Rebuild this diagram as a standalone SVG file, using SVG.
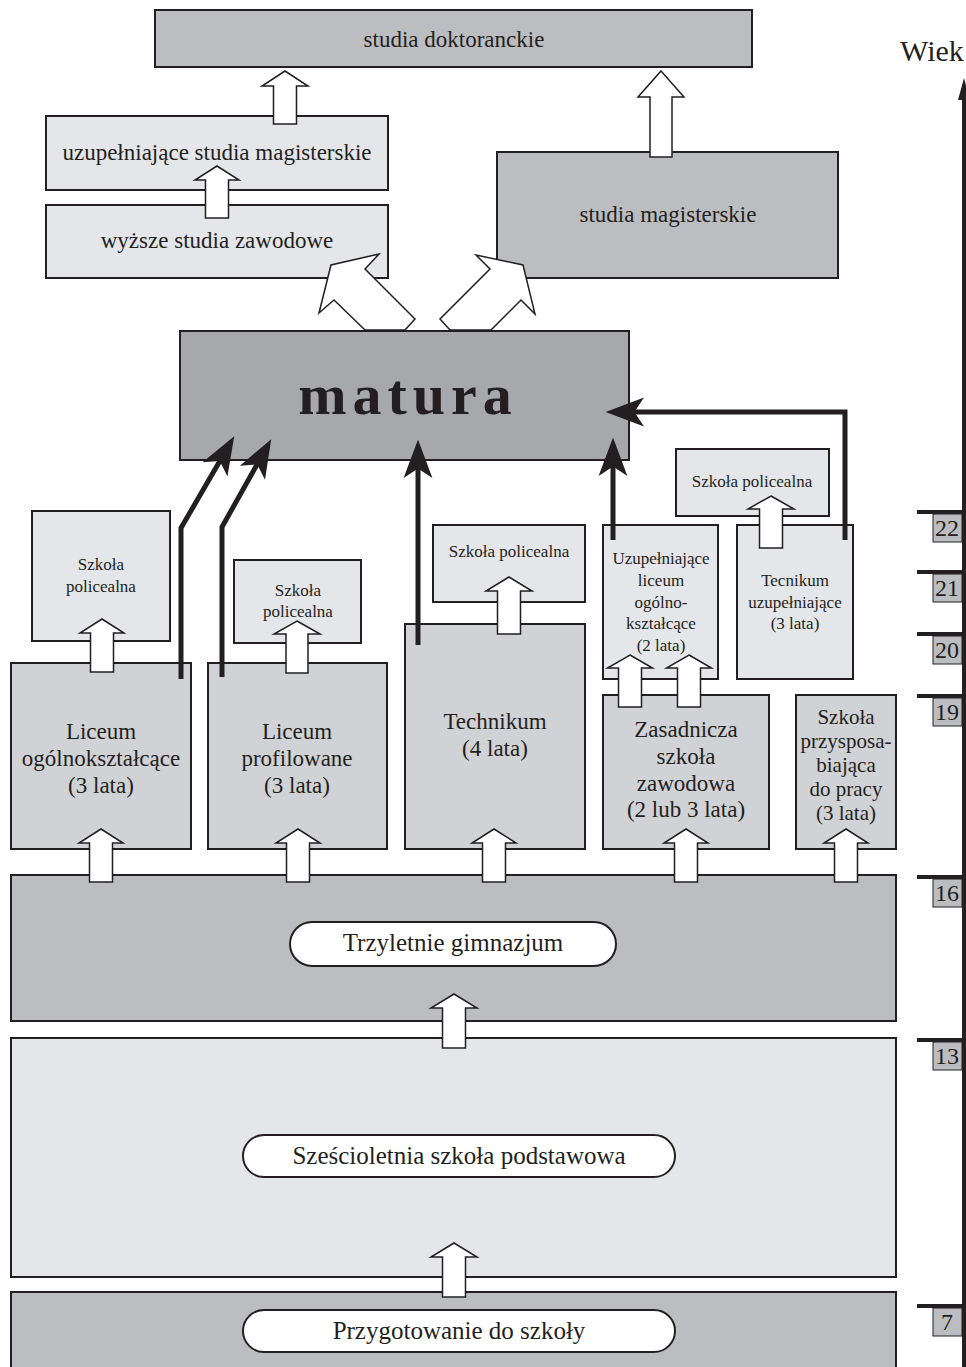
<svg xmlns="http://www.w3.org/2000/svg" width="966" height="1367" viewBox="0 0 966 1367">
<style>
text{font-family:"Liberation Serif","Times New Roman",serif;fill:#231f20;text-anchor:middle}
.b{stroke:#231f20;stroke-width:2}
.dk{fill:#bcbdc1}
.md{fill:#d1d2d5}
.lt{fill:#e5e6e9}
.mat{fill:#a6a8ac}
.pill{fill:#fff;stroke:#231f20;stroke-width:2}
.ha{fill:#fff;stroke:#231f20;stroke-width:1.5;stroke-linejoin:miter}
.t23{font-size:23px}
.t17{font-size:17px}
.t25{font-size:25px}
.ba{fill:none;stroke:#231f20;stroke-width:5;stroke-linejoin:miter}
.age{font-size:24px}
</style>
<defs>
<marker id="ah" markerUnits="userSpaceOnUse" markerWidth="60" markerHeight="60" refX="6" refY="0" orient="auto" viewBox="-10 -20 50 40">
<path d="M28 0 L-4 -12 L4 0 L-4 12 Z" fill="#231f20"/>
</marker>
</defs>

<g id="n-doktor"><rect class="b dk" x="155" y="10" width="597" height="57"/><text class="t23" x="454" y="47">studia doktoranckie</text></g>
<g id="n-uzup-mag"><rect class="b lt" x="46" y="116" width="342" height="74"/><text class="t23" x="217" y="160">uzupełniające studia magisterskie</text></g>
<g id="n-wyzsze"><rect class="b lt" x="46" y="205" width="342" height="73"/><text class="t23" x="217" y="248">wyższe studia zawodowe</text></g>
<g id="n-mag"><rect class="b dk" x="497" y="152" width="341" height="126"/><text class="t23" x="668" y="222">studia magisterskie</text></g>
<g id="n-matura"><rect class="b mat" x="180" y="331" width="449" height="129"/><text x="408" y="414" style="font-size:58px;font-weight:bold;letter-spacing:6px">matura</text></g>

<g id="n-pol1"><rect class="b lt" x="32" y="511" width="138" height="130"/><text class="t17" x="101" y="570">Szkoła</text><text class="t17" x="101" y="592">policealna</text></g>
<g id="n-pol2"><rect class="b lt" x="234" y="560" width="127" height="83"/><text class="t17" x="298" y="596">Szkoła</text><text class="t17" x="298" y="617">policealna</text></g>
<g id="n-pol3"><rect class="b lt" x="433" y="525" width="152" height="77"/><text class="t17" x="509" y="557">Szkoła policealna</text></g>
<g id="n-pol4"><rect class="b lt" x="676" y="449" width="153" height="67"/><text class="t17" x="752" y="487">Szkoła policealna</text></g>

<g id="n-lo"><rect class="b md" x="11" y="663" width="180" height="186"/><text class="t23" x="101" y="739">Liceum</text><text class="t23" x="101" y="766">ogólnokształcące</text><text class="t23" x="101" y="793">(3 lata)</text></g>
<g id="n-lp"><rect class="b md" x="208" y="663" width="179" height="186"/><text class="t23" x="297" y="739">Liceum</text><text class="t23" x="297" y="766">profilowane</text><text class="t23" x="297" y="793">(3 lata)</text></g>
<g id="n-tech"><rect class="b md" x="405" y="624" width="180" height="225"/><text class="t23" x="495" y="729">Technikum</text><text class="t23" x="495" y="756">(4 lata)</text></g>
<g id="n-ulo"><rect class="b lt" x="603" y="525" width="115" height="154"/><text class="t17" x="661" y="564">Uzupełniające</text><text class="t17" x="661" y="586">liceum</text><text class="t17" x="661" y="608">ogólno-</text><text class="t17" x="661" y="629">kształcące</text><text class="t17" x="661" y="651">(2 lata)</text></g>
<g id="n-tu"><rect class="b lt" x="737" y="525" width="116" height="154"/><text class="t17" x="795" y="586">Tecnikum</text><text class="t17" x="795" y="608">uzupełniające</text><text class="t17" x="795" y="629">(3 lata)</text></g>
<g id="n-zsz"><rect class="b md" x="603" y="695" width="166" height="154"/><text class="t23" x="686" y="737">Zasadnicza</text><text class="t23" x="686" y="764">szkoła</text><text class="t23" x="686" y="791">zawodowa</text><text class="t23" x="686" y="817">(2 lub 3 lata)</text></g>
<g id="n-sp"><rect class="b md" x="796" y="695" width="100" height="154"/><text x="846" y="724" style="font-size:21px">Szkoła</text><text x="846" y="748" style="font-size:21px">przysposa-</text><text x="846" y="772" style="font-size:21px">biająca</text><text x="846" y="796" style="font-size:21px">do pracy</text><text x="846" y="820" style="font-size:21px">(3 lata)</text></g>

<g id="n-gim"><rect class="b dk" x="11" y="875" width="885" height="146"/><rect class="pill" x="290" y="922" width="326" height="44" rx="22"/><text class="t25" x="453" y="951">Trzyletnie gimnazjum</text></g>
<g id="n-podst"><rect class="b lt" x="11" y="1038" width="885" height="239"/><rect class="pill" x="243" y="1135" width="432" height="42" rx="21"/><text class="t25" x="459" y="1164">Sześcioletnia szkoła podstawowa</text></g>
<g id="n-przyg"><rect class="b dk" x="11" y="1292" width="885" height="90"/><rect class="pill" x="243" y="1310" width="432" height="42" rx="21"/><text class="t25" x="459" y="1339">Przygotowanie do szkoły</text></g>

<g id="connectors">
<polygon class="ha" points="285,71 308,86 296.5,86 296.5,124 273.5,124 273.5,86 262,86"/>
<polygon class="ha" points="661,71 684,97 672,97 672,157 650,157 650,97 638,97"/>
<polygon class="ha" points="217,166 239,180 228.5,180 228.5,218 205.5,218 205.5,180 195,180"/>
<polygon class="ha" points="365,330 334,300 319,313 331,265 379,254 365,269 415,319 405,330"/>
<polygon class="ha" points="491,330 521,300 535,314 523,265 476,255 490,269 440,319 450,330"/>
<polygon class="ha" points="102,619 124,633 113.5,633 113.5,672 90.5,672 90.5,633 80,633"/>
<polygon class="ha" points="297,621 320,634 308,634 308,673 286,673 286,634 274,634"/>
<polygon class="ha" points="509,577 532,591 520.5,591 520.5,634 497.5,634 497.5,591 486,591"/>
<polygon class="ha" points="630,655 652.5,668 641.5,668 641.5,707 618.5,707 618.5,668 607.5,668"/>
<polygon class="ha" points="689,655 711.5,668 700.5,668 700.5,707 677.5,707 677.5,668 666.5,668"/>
<polygon class="ha" points="771,496 794,509 782.5,509 782.5,548 759.5,548 759.5,509 748,509"/>
<polygon class="ha" points="101,829 123,843 112.5,843 112.5,882 89.5,882 89.5,843 79,843"/>
<polygon class="ha" points="298,829 320,843 309.5,843 309.5,882 286.5,882 286.5,843 276,843"/>
<polygon class="ha" points="494,829 516,843 505.5,843 505.5,882 482.5,882 482.5,843 472,843"/>
<polygon class="ha" points="686,829 708,843 697.5,843 697.5,882 674.5,882 674.5,843 664,843"/>
<polygon class="ha" points="846,829 868,843 857.5,843 857.5,882 834.5,882 834.5,843 824,843"/>
<polygon class="ha" points="454,994 477,1008 465.5,1008 465.5,1048 442.5,1048 442.5,1008 431,1008"/>
<polygon class="ha" points="454,1243 477,1257 465.5,1257 465.5,1297 442.5,1297 442.5,1257 431,1257"/>

<path class="ba" d="M181 679 V528 L221 459" marker-end="url(#ah)"/>
<path class="ba" d="M222 677 V527 L258.3 462.2" marker-end="url(#ah)"/>
<path class="ba" d="M418 645 V466" marker-end="url(#ah)"/>
<path class="ba" d="M613 540 V464" marker-end="url(#ah)"/>
<path class="ba" d="M845 540 V412 H632" marker-end="url(#ah)"/>
</g>

<g id="axis">
<text x="932" y="61" style="font-size:30px">Wiek</text>
<line x1="964" y1="92" x2="964" y2="1367" stroke="#231f20" stroke-width="4"/>
<polygon points="964,78 958,100 970,100" fill="#231f20"/>
<g stroke="#231f20" stroke-width="4">
<line x1="917" y1="512" x2="966" y2="512"/>
<line x1="917" y1="572" x2="966" y2="572"/>
<line x1="917" y1="634" x2="966" y2="634"/>
<line x1="917" y1="696" x2="966" y2="696"/>
<line x1="917" y1="877" x2="966" y2="877"/>
<line x1="917" y1="1040" x2="966" y2="1040"/>
<line x1="917" y1="1306" x2="966" y2="1306"/>
</g>
<g fill="#bcbdc1" stroke="#231f20" stroke-width="1">
<rect x="933" y="514" width="29" height="28"/>
<rect x="933" y="574" width="29" height="28"/>
<rect x="933" y="636" width="29" height="28"/>
<rect x="933" y="698" width="29" height="28"/>
<rect x="933" y="879" width="29" height="28"/>
<rect x="933" y="1042" width="29" height="28"/>
<rect x="933" y="1308" width="29" height="28"/>
</g>
<text class="age" x="947" y="536">22</text>
<text class="age" x="947" y="596">21</text>
<text class="age" x="947" y="658">20</text>
<text class="age" x="947" y="720">19</text>
<text class="age" x="947" y="901">16</text>
<text class="age" x="947" y="1064">13</text>
<text class="age" x="947" y="1330">7</text>
</g>
</svg>
